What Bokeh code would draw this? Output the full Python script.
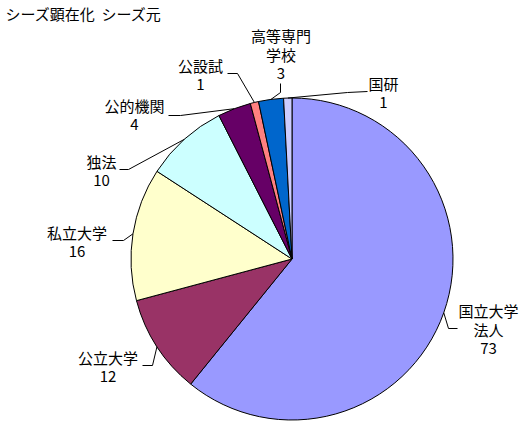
import math
from bokeh.plotting import figure
from bokeh.models import Range1d, ColumnDataSource
from bokeh.core.properties import value
from bokeh.embed import file_html
from bokeh.resources import INLINE

# ---- data ----
title_text = "シーズ顕在化\u00a0\u00a0シーズ元"
categories = ["国立大学\n法人", "公立大学", "私立大学", "独法", "公的機関", "公設試", "高等専門\n学校", "国研"]
counts = [73, 12, 16, 10, 4, 1, 3, 1]
colors = ["#9999FF", "#993366", "#FFFFCC", "#CCFFFF", "#660066", "#FF8080", "#0066CC", "#CCCCFF"]

# ---- layout (page pixel coordinates) ----
W, H = 528, 426
CX, CY, R = 291.5, 258.5, 161.0
FONT = value("Noto Sans CJK JP")
FS = "15px"
LINE_GAP = 19
# label block: centre x, centre y of first line
label_pos = [(488, 309.5), (107.5, 356.5), (76.5, 231.5), (101, 160.5),
             (134, 104.5), (200, 64.5), (280.5, 35), (383, 82.5)]
# leader: label end point, elbow point (then to the pie edge)
leader_pts = [((457, 328), (448, 328)), ((142, 365), (152, 365)), ((112, 240), (123, 240)),
              ((119, 169), (128, 169)), ((168, 115), (180, 115)), ((227, 73), (237, 73)),
              ((280, 83), (280, 92)), ((367, 91), (347, 92))]


def Y(py):
    return H - py


p = figure(width=W, height=H, output_backend="svg", toolbar_location=None,
           x_range=Range1d(0, W), y_range=Range1d(0, H),
           x_axis_location=None, y_axis_location=None, min_border=0,
           outline_line_color=None)
p.grid.visible = False
p.background_fill_color = "white"
p.border_fill_color = "white"

total = sum(counts)
starts, ends, mids = [], [], []
cum = 0
for c in counts:
    a0 = math.pi / 2 - 2 * math.pi * cum / total
    cum += c
    a1 = math.pi / 2 - 2 * math.pi * cum / total
    starts.append(a0)
    ends.append(a1)
    mids.append((a0 + a1) / 2)

src = ColumnDataSource(dict(start=starts, end=ends, color=colors, cat=categories, n=counts))
p.wedge(x=CX, y=Y(CY), radius=R, start_angle="start", end_angle="end", direction="clock",
        fill_color="color", line_color="black", line_width=1, source=src)

# leader lines
xs, ys = [], []
for (pt0, pt1), m in zip(leader_pts, mids):
    ex = CX + R * math.cos(m)
    ey = Y(CY) + R * math.sin(m)
    xs.append([pt0[0], pt1[0], ex])
    ys.append([Y(pt0[1]), Y(pt1[1]), ey])
p.multi_line(xs=xs, ys=ys, line_color="black", line_width=1)

# labels
tx, ty, tt = [], [], []
for cat, n, (lx, ly) in zip(categories, counts, label_pos):
    lines = cat.split("\n") + [str(n)]
    for i, ln in enumerate(lines):
        tx.append(lx)
        ty.append(Y(ly + i * LINE_GAP))
        tt.append(ln)
p.text(x=tx, y=ty, text=tt, text_font=FONT, text_font_size=FS, text_align="center",
       text_baseline="middle", text_color="black")

# title
p.text(x=[5], y=[Y(12.5)], text=[title_text], text_font=FONT, text_font_size=FS,
       text_align="left", text_baseline="middle", text_color="black")

open("out.html", "w").write(file_html(p, INLINE))
